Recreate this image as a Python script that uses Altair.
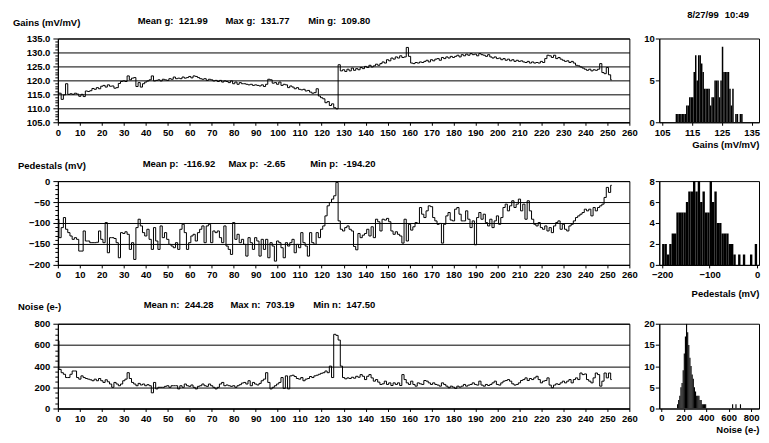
import altair as alt
import pandas as pd

FONT = "Liberation Sans"
FS = 9.5

# ---------------- data ----------------
channels = list(range(253))

gains = [
    115.6, 115.4, 113.2, 114.8, 118.8, 115.0, 115.2, 115.0, 115.4, 115.1,
    114.3, 115.0, 114.2, 116.2, 116.0, 116.3, 117.1, 116.8, 117.4, 117.0,
    117.9, 118.2, 117.6, 118.4, 117.9, 118.0, 117.2, 117.4, 118.9, 119.6,
    119.8, 119.6, 121.6, 120.2, 120.8, 121.0, 117.8, 119.2, 117.6, 118.8,
    119.4, 119.8, 120.2, 121.6, 119.8, 120.0, 120.2, 119.8, 120.4, 120.2,
    120.0, 120.6, 120.4, 121.2, 120.6, 120.8, 120.6, 121.2, 120.8, 121.0,
    121.4, 120.9, 121.6, 121.4, 121.0, 120.6, 120.4, 120.6, 120.0, 120.4,
    120.2, 119.8, 120.0, 119.6, 120.0, 119.4, 119.8, 119.6, 119.2, 119.8,
    118.8, 119.4, 118.6, 119.2, 118.8, 118.8, 118.6, 118.4, 118.6, 118.2,
    118.4, 118.2, 118.0, 118.4, 117.8, 118.6, 120.4, 120.2, 119.0, 119.2,
    118.6, 119.4, 118.2, 118.6, 118.4, 117.4, 118.0, 117.6, 117.0, 117.4,
    116.8, 116.6, 116.8, 116.2, 116.4, 115.8, 115.4, 115.6, 117.0, 114.4,
    113.8, 113.4, 112.0, 112.4, 111.0, 111.6, 110.2, 109.8, 125.6, 123.4,
    123.8, 123.2, 124.0, 123.4, 124.4, 123.6, 124.2, 123.8, 124.6, 124.2,
    125.0, 124.6, 125.4, 124.8, 125.2, 125.8, 125.4, 126.0, 126.6, 126.2,
    127.4, 127.0, 128.0, 127.6, 128.4, 128.0, 128.8, 128.2, 128.4, 131.8,
    128.6, 126.2, 126.0, 126.4, 126.2, 126.6, 126.4, 126.8, 127.2, 126.6,
    127.4, 127.0, 127.6, 127.8, 127.2, 128.2, 127.8, 128.4, 128.0, 128.6,
    128.2, 128.6, 129.0, 128.4, 129.2, 128.8, 129.4, 129.0, 129.6, 129.2,
    129.4, 128.8, 129.6, 129.2, 129.0, 128.6, 129.2, 128.4, 128.0, 128.4,
    127.8, 128.0, 127.4, 127.8, 127.2, 127.6, 127.0, 127.4, 126.8, 127.2,
    126.8, 127.0, 126.6, 126.4, 126.8, 126.2, 126.6, 126.2, 126.4, 126.2,
    126.8, 126.4, 127.8, 129.0, 128.8, 128.2, 129.0, 127.8, 128.2, 127.6,
    127.2, 126.8, 127.0, 126.4, 126.8, 126.2, 125.4, 125.2, 124.8, 124.4,
    124.0, 123.6, 124.0, 123.4, 123.8, 123.6, 124.0, 126.0, 122.8, 122.4,
    124.6, 122.0, 120.2,
]

pedestals = [
    -91, -135, -111, -87, -115, -123, -131, -139, -135, -139,
    -167, -167, -119, -143, -143, -147, -147, -147, -146, -119,
    -139, -147, -99, -171, -135, -135, -137, -147, -183, -123,
    -125, -121, -127, -163, -147, -187, -111, -91, -107, -123,
    -131, -115, -139, -163, -111, -143, -163, -107, -135, -123,
    -139, -151, -155, -159, -147, -163, -115, -103, -123, -163,
    -147, -131, -127, -143, -123, -115, -107, -147, -107, -103,
    -147, -119, -123, -119, -135, -147, -107, -155, -163, -175,
    -99, -139, -127, -147, -139, -151, -179, -135, -147, -163,
    -135, -143, -179, -139, -163, -139, -183, -147, -155, -191,
    -143, -147, -159, -183, -147, -155, -147, -139, -171, -151,
    -159, -123, -147, -155, -179, -123, -147, -151, -123, -135,
    -115, -107, -83, -59, -51, -43, -35, -3, -95, -115,
    -119, -111, -107, -115, -119, -156, -164, -125, -135, -129,
    -125, -115, -131, -109, -135, -91, -97, -119, -91, -93,
    -89, -97, -119, -127, -121, -127, -131, -148, -91, -143,
    -103, -117, -109, -99, -101, -63, -79, -87, -71, -59,
    -61, -87, -95, -103, -101, -148, -103, -83, -75, -93,
    -95, -67, -63, -79, -95, -95, -71, -91, -111, -95,
    -152, -87, -75, -91, -79, -99, -107, -91, -111, -95,
    -83, -103, -87, -63, -55, -71, -59, -47, -63, -55,
    -43, -71, -55, -91, -47, -71, -91, -103, -107, -99,
    -111, -115, -107, -119, -111, -123, -107, -99, -95, -115,
    -103, -115, -119, -107, -103, -95, -87, -83, -79, -75,
    -67, -71, -67, -83, -63, -71, -63, -59, -55, -39,
    -15, -27, -10,
]

noise = [
    640, 369, 338, 323, 292, 292, 323, 354, 354, 292,
    277, 308, 292, 283, 277, 271, 262, 277, 262, 283,
    262, 246, 271, 252, 231, 200, 246, 231, 215, 231,
    262, 277, 338, 283, 246, 231, 215, 237, 222, 231,
    215, 225, 215, 148, 246, 185, 200, 200, 200, 209,
    215, 200, 215, 215, 215, 185, 215, 200, 231, 215,
    209, 222, 200, 185, 209, 215, 231, 215, 209, 231,
    215, 200, 185, 200, 231, 246, 215, 222, 215, 209,
    215, 200, 215, 225, 240, 246, 231, 262, 215, 246,
    231, 222, 237, 262, 277, 338, 246, 185, 200, 215,
    231, 246, 292, 190, 308, 185, 308, 314, 302, 283,
    277, 292, 262, 277, 283, 302, 292, 308, 314, 323,
    332, 338, 354, 338, 400, 292, 700, 690, 646, 400,
    292, 280, 289, 283, 295, 286, 304, 295, 320, 304,
    273, 304, 320, 289, 258, 273, 249, 227, 233, 258,
    227, 242, 217, 242, 227, 242, 217, 320, 273, 242,
    227, 258, 227, 211, 242, 233, 227, 264, 258, 242,
    227, 242, 227, 221, 211, 242, 227, 211, 196, 211,
    202, 190, 211, 202, 211, 227, 211, 221, 227, 242,
    227, 221, 258, 221, 211, 227, 217, 227, 242, 258,
    227, 221, 242, 258, 264, 273, 258, 233, 221, 227,
    242, 264, 273, 289, 264, 283, 273, 289, 304, 273,
    242, 258, 264, 289, 221, 196, 221, 233, 227, 242,
    258, 242, 258, 273, 242, 273, 289, 273, 335, 320,
    326, 273, 258, 242, 289, 335, 320, 211, 258, 335,
    289, 335, 273,
]

row_titles = ["Gains (mV/mV)", "Pedestals (mV)", "Noise (e-)"]
stat_names = [["Mean g:", "Max g:", "Min g:"],
              ["Mean p:", "Max p:", "Min p:"],
              ["Mean n:", "Max n:", "Min n:"]]
stat_values = [[121.99, 131.77, 109.80],
               [-116.92, -2.65, -194.20],
               [244.28, 703.19, 147.50]]
date_parts = ["8/27/99", "10:49"]

main_x_ticks = list(range(0, 261, 10))
gain_y_ticks = list(range(105, 136, 1))
ped_y_ticks = list(range(-200, 1, 10))
noise_y_ticks = list(range(0, 801, 50))

gain_hist_lo, gain_hist_w = 109.5, 0.5
gain_hist_counts = [1, 1, 1, 1, 1, 1, 1, 2, 2, 3, 3, 3, 6, 8, 5, 8, 8, 7, 6, 4,
                    4, 4, 4, 2, 3, 3, 5, 5, 5, 3, 5, 9, 6, 6, 6, 6, 4, 2, 4, 0,
                    1, 1, 0, 1, 1]
ped_hist_lo, ped_hist_w = -200, 5
ped_hist_counts = [2, 2, 1, 2, 3, 3, 5, 5, 5, 5, 6, 7, 7, 8, 7, 8, 6, 7, 5, 5,
                   8, 6, 7, 4, 4, 3, 3, 3, 2, 2, 1, 0, 1, 0, 1, 0, 0, 1, 0, 2]
noise_hist_lo, noise_hist_w = 140, 10
noise_hist_counts = [1, 2, 3, 5, 6, 9, 13, 17, 20, 18, 15, 12, 10, 8, 7, 5, 4, 3, 3, 3,
                     2, 2, 1, 1, 1, 1, 0, 0, 0, 0, 0, 0, 0, 0, 0, 0, 0, 0, 0, 0,
                     0, 0, 0, 0, 0, 0, 0, 0, 0, 1, 0, 0, 1, 0, 0, 0, 1]

hist_x_ticks = [[105, 115, 125, 135], [-200, -100, 0], [0, 200, 400, 600, 800]]
hist_y_ticks = [[0, 5, 10], [0, 2, 4, 6, 8], [0, 5, 10, 15, 20]]

# ---------------- helpers ----------------
MAIN_W = 573
HIST_W = 100


def txt(s, dx, dy, align="left"):
    return alt.Chart(pd.DataFrame({"t": [s]})).mark_text(
        align=align, baseline="middle", font=FONT, fontSize=FS,
        fontWeight="bold", color="black"
    ).encode(x=alt.value(dx), y=alt.value(dy), text="t:N")


def main_panel(values, h, ydom, yticks, major, fmt, title, tdx, tdy,
               names, vals, sdx, sdy):
    df = pd.DataFrame({"ch": channels, "v": values})
    test = f"datum.value % {major} === 0"
    line = alt.Chart(df).mark_line(
        interpolate="step", color="black", strokeWidth=1, clip=True
    ).encode(
        x=alt.X("ch:Q", scale=alt.Scale(domain=[0, 260], nice=False, zero=False),
                axis=alt.Axis(values=main_x_ticks, title=None, grid=False,
                              tickSize=3, labelPadding=2, labelOverlap=False,
                              labelFlush=False, format="d")),
        y=alt.Y("v:Q", scale=alt.Scale(domain=ydom, nice=False, zero=False),
                axis=alt.Axis(values=yticks, title=None, grid=True,
                              gridColor="black", gridWidth=1,
                              gridOpacity={"condition": {"test": test, "value": 1}, "value": 0},
                              tickSize={"condition": {"test": test, "value": 5}, "value": 3},
                              labelExpr=f"datum.value % {major} === 0 ? format(datum.value, '{fmt}') : ''",
                              labelPadding=3)),
    )
    layers = [line, txt(title, tdx, tdy)]
    for n, v, dx in zip(names, vals, sdx):
        layers.append(txt(f"{n}\u00a0\u00a0{v:.2f}", dx, sdy))
    return alt.layer(*layers).properties(width=MAIN_W, height=h)


def hist_panel(lo, w, counts, xdom, xt, ydom, yt, title, h, tpad, lpad=2, extra=None):
    starts = [lo + w * i for i in range(len(counts))]
    df = pd.DataFrame({"a": starts, "b": [s + w for s in starts], "n": counts})
    bars = alt.Chart(df).mark_bar(color="black", clip=True).encode(
        x=alt.X("a:Q", scale=alt.Scale(domain=xdom, nice=False, zero=False),
                axis=alt.Axis(values=xt, title=title, titleAnchor="end",
                              titlePadding=tpad, tickSize=3, labelPadding=lpad,
                              grid=False, labelOverlap=False, format="d")),
        x2="b:Q",
        y=alt.Y("n:Q", scale=alt.Scale(domain=ydom, nice=False, zero=True),
                axis=alt.Axis(values=yt, title=None, grid=False, tickSize=4,
                              labelPadding=1, format="d")),
        y2=alt.Y2Datum(0),
    )
    layers = [bars]
    if extra:
        layers += extra
    return alt.layer(*layers).properties(width=HIST_W, height=h)


m1 = main_panel(gains, 84, [105, 135], gain_y_ticks, 5, ".1f", row_titles[0], -45, -16,
                stat_names[0], stat_values[0], [80, 168, 251], -18)
m2 = main_panel(pedestals, 84, [-200, 0], ped_y_ticks, 50, "d", row_titles[1], -40, -15,
                stat_names[1], stat_values[1], [85, 171, 253], -17)
m3 = main_panel(noise, 85, [0, 800], noise_y_ticks, 200, "d", row_titles[2], -40, -17,
                stat_names[2], stat_values[2], [86, 173, 256], -19)

h1 = hist_panel(gain_hist_lo, gain_hist_w, gain_hist_counts, [104, 137.5], hist_x_ticks[0],
                [0, 10], hist_y_ticks[0], row_titles[0], 84, 3,
                extra=[txt(date_parts[0], 28, -24), txt(date_parts[1], 90, -24, align="right")])
h2 = hist_panel(ped_hist_lo, ped_hist_w, ped_hist_counts, [-206, 4], hist_x_ticks[1],
                [0, 8], hist_y_ticks[1], row_titles[1], 84, 9)
h3 = hist_panel(noise_hist_lo, noise_hist_w, noise_hist_counts, [-18, 870], hist_x_ticks[2],
                [0, 20], hist_y_ticks[2], row_titles[2], 85, 3, lpad=1)

chart = alt.concat(
    m1, h1, m2, h2, m3, h3, columns=2,
    spacing={"row": 59, "column": 30}, bounds="flush", align="each",
).properties(
    padding={"left": 4, "top": 0, "right": 0, "bottom": 0},
    background="white",
).configure_view(
    stroke="black", strokeWidth=1,
).configure_axis(
    labelFont=FONT, labelFontSize=FS, labelFontWeight="bold", labelColor="black",
    titleFont=FONT, titleFontSize=FS, titleFontWeight="bold", titleColor="black",
    domainColor="black", tickColor="black", domainWidth=1, tickWidth=1,
)

chart.save("out.html", embed_options={"renderer": "svg", "actions": False})
